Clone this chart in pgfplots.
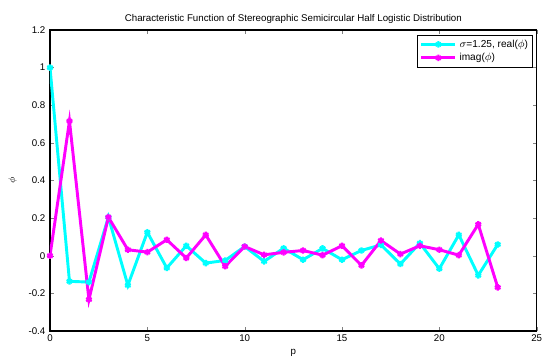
\documentclass[border=0pt]{standalone}
\usepackage{pgfplots}
\pgfplotsset{compat=1.18}
\usepackage{fontspec}
\setmainfont{Liberation Sans}
\begin{document}
\begin{tikzpicture}
\begin{axis}[
  at={(37.5pt,20.25pt)}, anchor=south west,
  scale only axis, width=365pt, height=225.75pt,
  xmin=0, xmax=25, ymin=-0.4, ymax=1.2,
  xtick={0,5,...,25}, ytick={-0.4,-0.2,0,0.2,0.4,0.6,0.8,1,1.2},
  tick align=inside, tick pos=both,
  xticklabel pos=bottom, yticklabel pos=left,
  major tick length=3pt,
  /pgf/number format/assume math mode=true,
  ticklabel style={font=\fontsize{7.3}{8}\selectfont},
  xticklabel style={yshift=1pt},
  title={Characteristic Function of Stereographic Semicircular Half Logistic Distribution},
  title style={font=\fontsize{7.3}{8}\selectfont, yshift=-4.5pt},
  xlabel={p}, xlabel style={font=\fontsize{7.3}{8}\selectfont, yshift=1pt},
  ylabel={$\phi$}, ylabel style={font=\fontsize{7.3}{8}\selectfont, yshift=2pt},
  axis line style={line width=0.8pt},
  legend style={at={(rel axis cs:0.993,0.985)}, anchor=north east, font=\fontsize{7.6}{8.5}\selectfont, draw=black, line width=0.8pt, inner sep=1.5pt, row sep=-1pt},
  legend cell align=left,
  legend image code/.code={\draw[#1, line width=2.2pt, mark repeat=2, mark phase=2] plot coordinates {(0cm,0cm) (0.45cm,0cm) (0.9cm,0cm)};},
]
\addplot[color={rgb,1:red,0;green,1;blue,1}, line width=2.2pt, mark=asterisk, mark size=2.4pt, mark options={line width=1.6pt}] coordinates {
(0,1.0) (1,-0.136) (2,-0.14) (3,0.205) (4,-0.157) (5,0.125) (6,-0.065) (7,0.053) (8,-0.039) (9,-0.025) (10,0.049) (11,-0.03) (12,0.04) (13,-0.021) (14,0.039) (15,-0.021) (16,0.028) (17,0.058) (18,-0.044) (19,0.067) (20,-0.069) (21,0.111) (22,-0.104) (23,0.06)
};
\addlegendentry{$\sigma$=1.25, real($\phi$)}
\addplot[color={rgb,1:red,1;green,0;blue,1}, line width=2.2pt, mark=asterisk, mark size=2.4pt, mark options={line width=1.6pt}] coordinates {
(0,0) (1,0.716) (2,-0.233) (3,0.205) (4,0.032) (5,0.019) (6,0.085) (7,-0.012) (8,0.111) (9,-0.056) (10,0.049) (11,0.005) (12,0.018) (13,0.028) (14,0.003) (15,0.053) (16,-0.051) (17,0.081) (18,0.009) (19,0.053) (20,0.032) (21,0.003) (22,0.167) (23,-0.168)
};
\addlegendentry{imag($\phi$)}
\end{axis}
\pgfresetboundingbox
\useasboundingbox (0,0) rectangle (408pt,268.5pt);
\end{tikzpicture}
\end{document}
